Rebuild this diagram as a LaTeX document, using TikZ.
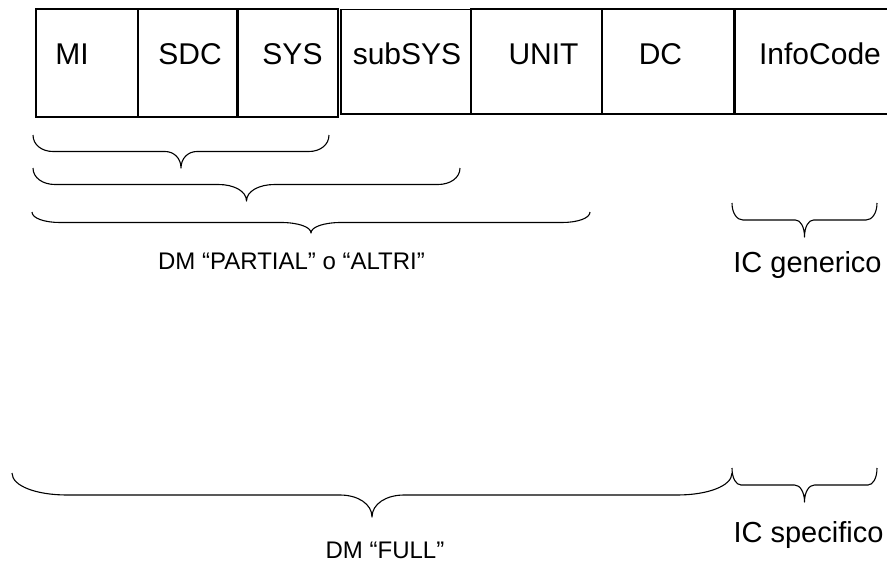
\documentclass[tikz,border=0pt]{standalone}
\usepackage{fontspec}
\setmainfont{Liberation Sans}

% brace: left x, right x, top y, height, end radius, tip half width
\newcommand{\wordbrace}[6]{%
  \draw[brc] (#1,#3)
    .. controls (#1,{#3+0.3*#4}) and ({#1+0.45*#5},{#3+0.5*#4}) .. ({#1+#5},{#3+0.5*#4})
    -- ({(#1+#2)/2-#6},{#3+0.5*#4})
    .. controls ({(#1+#2)/2-0.45*#6},{#3+0.5*#4}) and ({(#1+#2)/2},{#3+0.7*#4}) .. ({(#1+#2)/2},{#3+#4})
    .. controls ({(#1+#2)/2},{#3+0.7*#4}) and ({(#1+#2)/2+0.45*#6},{#3+0.5*#4}) .. ({(#1+#2)/2+#6},{#3+0.5*#4})
    -- ({#2-#5},{#3+0.5*#4})
    .. controls ({#2-0.45*#5},{#3+0.5*#4}) and (#2,{#3+0.3*#4}) .. (#2,#3);}

\begin{document}
\begin{tikzpicture}[x=1pt, y=-1pt,
    cell/.style={rectangle, draw=black, line width=1.3pt, inner sep=0pt},
    celltxt/.style={anchor=base, font=\fontsize{30}{36}\selectfont},
    brc/.style={line width=1.1pt, line join=round},
    dmtxt/.style={anchor=base, font=\fontsize{24}{29}\selectfont},
    ictxt/.style={anchor=base, font=\fontsize{29}{35}\selectfont}]

    \useasboundingbox (0,0) rectangle (887,563);

    % code fields
    \node[cell, minimum width=102, minimum height=108] (mi)    at (87,63)     {};
    \node[cell, minimum width=99, minimum height=108] (sdc)    at (187.5,63)  {};
    \node[cell, minimum width=99.5, minimum height=108] (sys)  at (288.25,63) {};
    \node[cell, minimum width=130, minimum height=104.5] (sub) at (406,61.75) {};
    \node[cell, minimum width=131, minimum height=105] (unit)  at (536.5,61.5) {};
    \node[cell, minimum width=132, minimum height=105] (dc)    at (668,61.5)  {};
    \node[cell, minimum width=160, minimum height=105] (info)  at (815,61.5)  {};

    \node[celltxt] (mitxt)   at (72,64)    {MI};
    \node[celltxt] (sdctxt)  at (190,64)   {SDC};
    \node[celltxt] (systxt)  at (292.5,64) {SYS};
    \node[celltxt] (subtxt)  at (407,64)   {subSYS};
    \node[celltxt] (unittxt) at (543.5,64) {UNIT};
    \node[celltxt] (dctxt)   at (660.5,64) {DC};
    \node[celltxt] (infotxt) at (820,64)   {InfoCode};

    % braces
    \wordbrace{33}{329}{135}{33}{20}{16}
    \wordbrace{33}{460}{168}{33}{22}{28}
    \wordbrace{32}{590}{212}{21}{28}{30}
    \wordbrace{732}{877}{203}{34}{11}{9}
    \wordbrace{12}{732}{473}{44}{55}{32}
    \wordbrace{732}{877}{468}{34}{9}{10}

    \node[dmtxt] (partial) at (291.5,269) {DM “PARTIAL” o “ALTRI”};
    \node[ictxt] (gen)     at (807.5,272) {IC generico};
    \node[dmtxt] (full)    at (385,558)   {DM “FULL”};
    \node[ictxt] (spec)    at (808.5,542) {IC specifico};

\end{tikzpicture}
\end{document}
